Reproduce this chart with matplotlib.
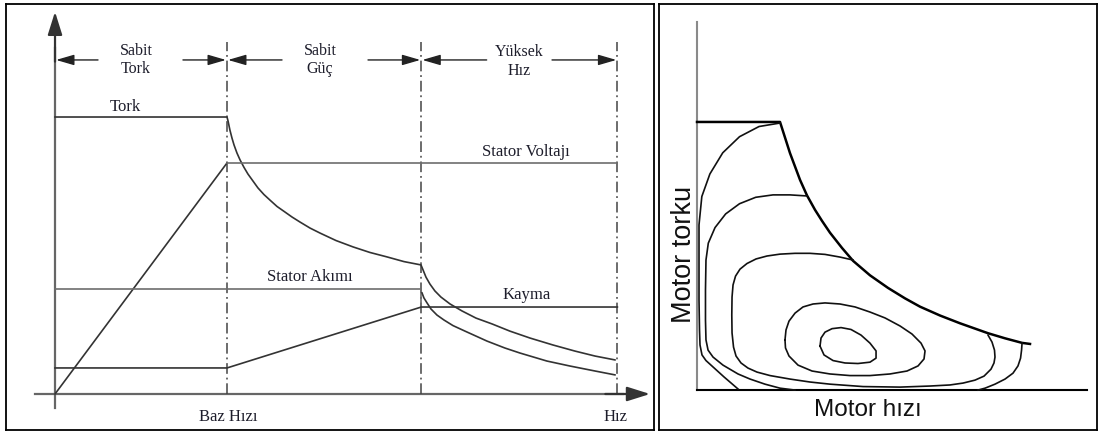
import numpy as np
import matplotlib.pyplot as plt

# ---- sol panel: hiz bolgeleri (hiz ve buyuklukler % olarak) ----
speed_base = 100
speed_fw = 213
speed_max = 327

torque_x = [0, 100, 100.6, 101.7, 102.9, 104.1, 105.8, 107.6, 109.9, 112.2, 115.1, 118.0,
            121.5, 125.0, 129.1, 133.7, 137.8, 142.4, 148.3, 154.1, 163.4, 173.3, 183.1,
            193.0, 202.9, 212.8,
            214.0, 215.7, 218.0, 220.9, 224.4, 229.7, 236.6, 244.8, 254.1, 264.5, 276.2,
            289.5, 302.3, 314.0, 325.6]
torque_y = [100, 100, 98.6, 95.3, 92.4, 89.9, 87.0, 84.5, 81.8, 79.4, 76.9, 74.4,
            72.0, 70.0, 67.7, 65.7, 63.9, 62.1, 59.9, 58.1, 55.4, 53.1, 51.1,
            49.5, 47.8, 46.6,
            44.8, 42.2, 39.7, 37.2, 35.0, 32.5, 30.0, 27.4, 25.3, 22.7, 20.2,
            17.7, 15.5, 13.7, 12.3]

voltage_x = [0, 100, 327]
voltage_y = [0, 83.4, 83.4]

current_x = [0, 213, 213]
current_y = [37.9, 37.9, 31.4]
current_fw_x = [213.4, 214.5, 216.3, 218.6, 222.1, 226.2, 231.4, 238.4, 251.2, 261.6,
                270.3, 286.0, 299.4, 314.0, 325.6]
current_fw_y = [36.5, 34.7, 32.9, 30.7, 28.5, 26.7, 24.7, 22.7, 19.1, 16.6,
                14.8, 11.9, 10.1, 8.3, 6.9]

slip_x = [0, 100, 213, 327]
slip_y = [9.4, 9.4, 31.4, 31.4]

region_names = ["Sabit\nTork", "Sabit\nGüç", "Yüksek\nHız"]
region_x = [47, 154, 270]

# ---- sag panel: verim haritasi ----
env_x = [0, 100, 112.0, 124.1, 132.5, 142.2, 150.6, 160.2, 174.7, 188.0, 208.4, 230.1,
         250.6, 268.7, 292.8, 316.9, 350.6, 371.1, 391.6, 401.2]
env_y = [100, 100, 88.4, 78.4, 72.6, 67.2, 63.1, 58.7, 53.0, 48.2, 42.8, 38.1,
         34.2, 31.1, 27.8, 24.9, 21.2, 19.3, 17.6, 17.2]

loopA_x = [100, 74.7, 51.2, 31.0, 15.5, 5.8, 2.4, 2.4, 2.4, 3.0, 3.6, 6.0, 10.8, 32.5, 49.4]
loopA_y = [99.6, 98.3, 94.5, 88.5, 80.6, 72.2, 61.6, 48.5, 33.6, 22.4, 16.8, 13.1, 11.0, 4.9, 0.4]

loopB_x = [132.5, 112, 91.6, 70.7, 51.2, 34.5, 21.7, 13.6, 10.8, 10.2, 10.2, 10.8, 13.3,
           19.3, 31.3, 49.4, 63.9, 81.9, 100, 118]
loopB_y = [72.4, 72.8, 72.8, 71.9, 69.5, 65.7, 60.6, 54.8, 48.5, 37.3, 26.1, 18.7, 14.9,
           12.3, 9.3, 6.0, 4.1, 2.2, 0.7, 0]

loopC_x = [188, 172.3, 154.2, 136.1, 118.1, 100, 84.3, 71.1, 60.2, 51.8, 46.4, 43.4, 42.2,
           41.9, 42.2, 44.0, 47.0, 53.0, 61.4, 72.3, 88.0, 112.0, 136.1, 160.2, 200, 244.6,
           280.7, 304.8, 320.5, 334.9, 345.8, 354.2, 357.8, 359.0, 358.4, 355.4, 350.6]
loopC_y = [48.5, 49.6, 50.6, 51.0, 51.0, 50.7, 50.0, 48.9, 47.2, 45.1, 42.5, 39.2, 34.7,
           28.0, 21.3, 16.0, 12.7, 10.1, 8.2, 6.7, 5.4, 4.1, 3.0, 2.2, 1.3, 1.1,
           1.5, 1.9, 2.6, 3.7, 5.2, 7.8, 10.1, 12.3, 14.9, 17.9, 20.5]

loopD_x = [391.6, 391.0, 389.8, 386.7, 380.7, 371.1, 359.0, 347.0, 338.6]
loopD_y = [17.5, 14.9, 11.9, 9.0, 6.3, 4.1, 2.2, 0.7, 0]

loopE_x = [106, 107.2, 110.8, 118.1, 127.7, 139.8, 154.2, 172.3, 190.4, 208.4, 226.5, 244.6,
           259.0, 269.9, 274.7, 273.5, 266.3, 253.0, 232.5, 208.4, 184.3, 160.2, 138.6,
           121.7, 110.8, 106.6, 106]
loopE_y = [18.7, 22.4, 25.7, 28.7, 31.0, 32.1, 32.5, 32.1, 31.0, 29.1, 26.9, 23.9,
           20.9, 17.5, 14.6, 11.6, 9.0, 7.1, 6.0, 5.4, 5.4, 6.0, 7.1,
           9.3, 12.7, 15.7, 18.7]

loopF_x = [148.2, 149.4, 154.2, 162.7, 173.5, 185.5, 197.6, 208.4, 215.7, 215.7, 208.4,
           193.9, 178.3, 163.9, 153.0, 148.2]
loopF_y = [16.4, 19.4, 21.6, 22.9, 23.3, 22.6, 20.5, 17.5, 14.6, 11.9, 10.4,
           9.9, 10.1, 11.0, 13.1, 16.4]

W, H = 1102, 432
fig = plt.figure(figsize=(W / 100, H / 100), dpi=100)

serif = "Liberation Serif"
txt = "#1d1d2b"
ln = "#333333"

# sol panel
ax = fig.add_axes([6 / W, 1 - 430 / H, 648 / W, 426 / H])
ax.set_xlim(-28.5, 348.3)
ax.set_ylim(-13.0, 140.8)
ax.set_xticks([])
ax.set_yticks([])
for s in ax.spines.values():
    s.set_linewidth(1.3)
    s.set_color("black")

# eksenler
ax.plot([0, 0], [-5, 125], color="#666666", lw=1.6)
ax.annotate("", xy=(0, 138), xytext=(0, 120),
            arrowprops=dict(arrowstyle="-|>,head_length=0.7,head_width=0.22", mutation_scale=20,
                            color="#333333", lw=1.6, shrinkA=0, shrinkB=0))
ax.plot([-11.6, 330], [0, 0], color="#666666", lw=1.6)
ax.annotate("", xy=(346, 0), xytext=(320, 0),
            arrowprops=dict(arrowstyle="-|>,head_length=0.7,head_width=0.22", mutation_scale=20,
                            color="#333333", lw=1.6, shrinkA=0, shrinkB=0))

# bolge sinirlari
for xv in [speed_base, speed_fw, speed_max]:
    ax.plot([xv, xv], [0, 127], color="#444444", lw=1.1, linestyle=(0, (7, 2.5, 1.2, 2.5)))

# bolge oklari
arr = dict(arrowstyle="-|>,head_length=0.55,head_width=0.16", mutation_scale=20,
           color="#222222", lw=1.0, shrinkA=0, shrinkB=0)
y_arr = 120.6
for x0, x1, (a, b) in zip([0, speed_base, speed_fw], [speed_base, speed_fw, speed_max],
                          [(25, 74.4), (132, 182), (251, 289)]):
    ax.annotate("", xy=(x0 + 0.6, y_arr), xytext=(a, y_arr), arrowprops=arr)
    ax.annotate("", xy=(x1 - 0.6, y_arr), xytext=(b, y_arr), arrowprops=arr)

for name, xc in zip(region_names, region_x):
    ax.text(xc, y_arr + (0 if name.startswith("Sabit") else -0.6), name, ha="center", va="center",
            fontsize=11.5, family=serif, color=txt, linespacing=1.2)

# egriler
ax.plot(torque_x, torque_y, color=ln, lw=1.2, solid_joinstyle="round")
ax.plot(voltage_x[:2], voltage_y[:2], color=ln, lw=1.2)
ax.plot(voltage_x[1:], voltage_y[1:], color="#6d6d6d", lw=1.2)
ax.plot(current_x, current_y, color="#6d6d6d", lw=1.2)
ax.plot(current_fw_x, current_fw_y, color=ln, lw=1.2, solid_joinstyle="round")
ax.plot(slip_x, slip_y, color=ln, lw=1.2)

ax.text(41, 103.6, "Tork", ha="center", va="center", fontsize=12, family=serif, color=txt)
ax.text(274, 87.4, "Stator Voltajı", ha="center", va="center", fontsize=12, family=serif, color=txt)
ax.text(148, 42.2, "Stator Akımı", ha="center", va="center", fontsize=12, family=serif, color=txt)
ax.text(274, 35.7, "Kayma", ha="center", va="center", fontsize=12, family=serif, color=txt)
ax.text(101, -8.3, "Baz Hızı", ha="center", va="center", fontsize=12, family=serif, color=txt)
ax.text(326, -8.3, "Hız", ha="center", va="center", fontsize=12, family=serif, color=txt)

# sag panel
bx = fig.add_axes([659 / W, 1 - 430 / H, 438 / W, 426 / H])
bx.set_xlim(-45.8, 481.9)
bx.set_ylim(-14.9, 144.0)
bx.set_xticks([])
bx.set_yticks([])
for s in bx.spines.values():
    s.set_linewidth(1.3)
    s.set_color("black")

bx.plot([0, 0], [0, 137.3], color="#8a8a8a", lw=1.5)
bx.plot([0, 470], [0, 0], color="black", lw=1.5)

bx.plot(env_x, env_y, color="black", lw=1.8, solid_joinstyle="round")
for lx, ly in [(loopA_x, loopA_y), (loopB_x, loopB_y), (loopC_x, loopC_y),
               (loopD_x, loopD_y), (loopE_x, loopE_y), (loopF_x, loopF_y)]:
    bx.plot(lx, ly, color="#111111", lw=1.2, solid_joinstyle="round")

bx.text(-15.5, 50.4, "Motor torku", rotation=90, ha="center", va="center",
        fontsize=19.5, family="Liberation Sans", color="#111111")
bx.text(206, -7.5, "Motor hızı", ha="center", va="center",
        fontsize=17.5, family="Liberation Sans", color="#111111")

fig.savefig("out.png", dpi=100)
